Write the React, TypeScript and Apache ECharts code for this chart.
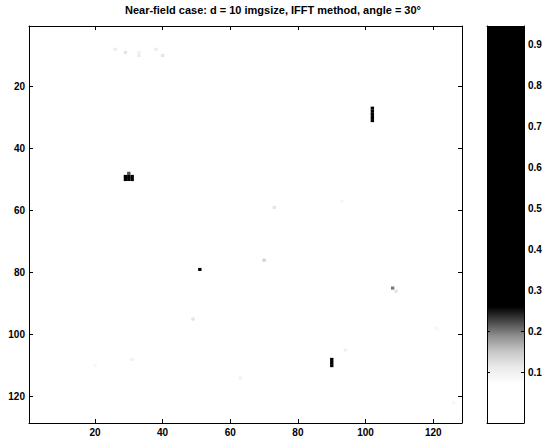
import React, { useEffect, useRef } from "react";
import * as echarts from "echarts";

const TITLE = "Near-field case: d = 10 imgsize, IFFT method, angle = 30°";
const axisTickValues = [20, 40, 60, 80, 100, 120];
const colorbarTickValues = [0.1, 0.2, 0.3, 0.4, 0.5, 0.6, 0.7, 0.8, 0.9];
const imageMin = 0.5;
const imageMax = 128.5;
const cbMin = -0.024;
const cbMax = 0.946;

// colormap: value -> gray
const cmapValues = [0.07, 0.11, 0.15, 0.19, 0.23, 0.26];
const cmapGrays = [255, 236, 200, 140, 60, 0];

// bright spots (column, row, intensity)
const spotA = [
  [29, 49, 0.7], [30, 49, 0.95], [31, 49, 0.95],
  [29, 50, 0.85], [30, 50, 0.95], [31, 50, 0.9], [30, 48, 0.22],
];
const spotB = [
  [102, 27, 0.4], [102, 28, 0.95], [102, 29, 0.95], [102, 30, 0.95], [102, 31, 0.5],
];
const spotC = [[51, 79, 0.95]];
const spotD = [[90, 108, 0.6], [90, 109, 0.95], [90, 110, 0.55]];
// faint speckles
const speckles = [
  [26, 8, 0.11], [29, 9, 0.12], [33, 9, 0.1], [33, 10, 0.11], [38, 8, 0.11], [40, 10, 0.12],
  [93, 57, 0.09], [73, 59, 0.12], [70, 76, 0.14], [108, 85, 0.2], [109, 86, 0.12],
  [49, 95, 0.12], [31, 108, 0.1], [20, 110, 0.09], [63, 114, 0.1], [94, 105, 0.1],
  [121, 98, 0.09], [126, 122, 0.09],
];

const FONT = "Arial, 'Liberation Sans', sans-serif";

function grayOf(v: number): string {
  let g = cmapGrays[0];
  if (v <= cmapValues[0]) g = cmapGrays[0];
  else if (v >= cmapValues[cmapValues.length - 1]) g = cmapGrays[cmapGrays.length - 1];
  else {
    for (let i = 0; i < cmapValues.length - 1; i++) {
      if (v >= cmapValues[i] && v <= cmapValues[i + 1]) {
        const t = (v - cmapValues[i]) / (cmapValues[i + 1] - cmapValues[i]);
        g = cmapGrays[i] + t * (cmapGrays[i + 1] - cmapGrays[i]);
        break;
      }
    }
  }
  const c = Math.round(g);
  return `rgb(${c},${c},${c})`;
}

export default function App() {
  const ref = useRef<HTMLDivElement>(null);
  useEffect(() => {
    if (!ref.current) return;
    const chart = echarts.init(ref.current, null, { renderer: "svg" });
    const cells = [...spotA, ...spotB, ...spotC, ...spotD, ...speckles];
    const labelStyle = { color: "#000", fontSize: 10, fontWeight: "bold" as const, fontFamily: FONT };
    const lineStyle = { color: "#000", width: 1 };
    const mainX = (pos: string, show: boolean) => ({
      type: "value", gridIndex: 0, position: pos, min: imageMin, max: imageMax, z: 5,
      axisLine: { show: true, onZero: false, lineStyle },
      axisTick: { show: true, inside: true, length: 4, lineStyle, customValues: axisTickValues },
      axisLabel: { show, margin: 4, ...labelStyle, customValues: axisTickValues },
      splitLine: { show: false },
    });
    const mainY = (pos: string, show: boolean) => ({
      type: "value", gridIndex: 0, position: pos, inverse: true, min: imageMin, max: imageMax, z: 5,
      axisLine: { show: true, onZero: false, lineStyle },
      axisTick: { show: true, inside: true, length: 4, lineStyle, customValues: axisTickValues },
      axisLabel: { show, margin: 4, ...labelStyle, customValues: axisTickValues },
      splitLine: { show: false },
    });
    const cbY = (pos: string, show: boolean) => ({
      type: "value", gridIndex: 1, position: pos, min: cbMin, max: cbMax, z: 5,
      axisLine: { show: true, onZero: false, lineStyle },
      axisTick: { show: true, inside: true, length: 3, lineStyle, customValues: colorbarTickValues },
      axisLabel: { show, margin: 4, ...labelStyle, customValues: colorbarTickValues },
      splitLine: { show: false },
    });
    const span = cbMax - cbMin;
    const stops = cmapValues
      .map((v) => ({ offset: (cbMax - v) / span, color: grayOf(v) }))
      .reverse();
    const cbLeft = 487, cbTop = 26, cbW = 37, cbH = 397;
    chart.setOption({
      animation: false,
      backgroundColor: "#fff",
      graphic: [
        {
          type: "text", x: 273, y: 10, z: 10,
          style: { text: TITLE, align: "center", verticalAlign: "middle", font: `bold 11px ${FONT}`, fill: "#000" },
        },
        {
          type: "rect", x: cbLeft, y: cbTop, z: 0,
          shape: { x: 0, y: 0, width: cbW, height: cbH },
          style: { fill: new echarts.graphic.LinearGradient(0, 0, 0, 1, stops) },
        },
      ],
      grid: [
        { left: 29, top: 26, width: 433, height: 397, show: false },
        { left: cbLeft, top: cbTop, width: cbW, height: cbH, show: false },
      ],
      xAxis: [
        mainX("bottom", true),
        mainX("top", false),
        {
          type: "value", gridIndex: 1, position: "bottom", min: 0, max: 1, z: 5,
          axisLine: { show: true, onZero: false, lineStyle }, axisTick: { show: false }, axisLabel: { show: false }, splitLine: { show: false },
        },
        {
          type: "value", gridIndex: 1, position: "top", min: 0, max: 1, z: 5,
          axisLine: { show: true, onZero: false, lineStyle }, axisTick: { show: false }, axisLabel: { show: false }, splitLine: { show: false },
        },
      ],
      yAxis: [mainY("left", true), mainY("right", false), cbY("right", true), cbY("left", false)],
      series: [
        {
          type: "custom",
          xAxisIndex: 0,
          yAxisIndex: 0,
          encode: { x: 0, y: 1 },
          data: cells,
          clip: true,
          renderItem: (params: any, api: any) => {
            const x = api.value(0);
            const y = api.value(1);
            const v = api.value(2);
            const p0 = api.coord([x - 0.5, y - 0.5]);
            const p1 = api.coord([x + 0.5, y + 0.5]);
            return {
              type: "rect",
              shape: {
                x: Math.min(p0[0], p1[0]),
                y: Math.min(p0[1], p1[1]),
                width: Math.abs(p1[0] - p0[0]),
                height: Math.abs(p1[1] - p0[1]),
              },
              style: { fill: grayOf(v) },
            };
          },
        },
        { type: "line", xAxisIndex: 2, yAxisIndex: 2, data: [], z: 10 },
      ],
    });
    return () => chart.dispose();
  }, []);
  return <div ref={ref} style={{ position: "fixed", left: 0, top: 0, width: 554, height: 440 }} />;
}
